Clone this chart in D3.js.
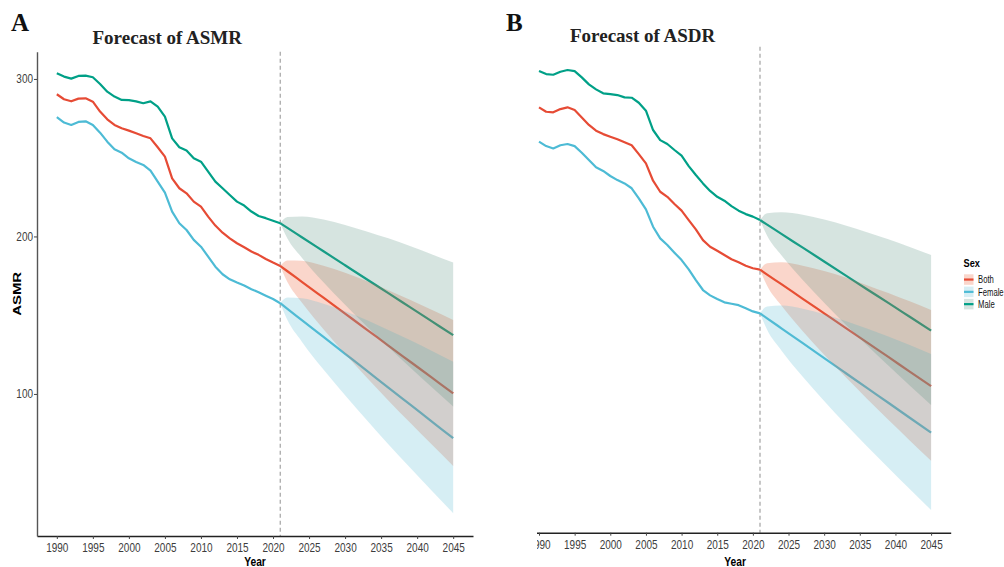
<!DOCTYPE html>
<html>
<head>
<meta charset="utf-8">
<script src="https://cdn.jsdelivr.net/npm/d3@7"></script>
<style>
  body { margin: 0; background: #fff; }
  svg { display: block; }
</style>
</head>
<body>
<svg id="chart" width="1004" height="567"></svg>
<script>
// ---- data ----
const sexes = ["Both", "Female", "Male"];
const sexColors = ["#E64B35", "#4DBBD5", "#00A087"];
const bandColors = ["#EC5A30", "#5DBAD2", "#5A9585"];
const histYears = d3.range(1990, 2022);
const fcYears = [2021, 2022, 2024, 2027, 2030, 2033, 2036, 2039, 2042, 2045];
const xTicks = [1990, 1995, 2000, 2005, 2010, 2015, 2020, 2025, 2030, 2035, 2040, 2045];
const asmrTicks = [100, 200, 300];

// ASMR (panel A)
const asmrBothHist = [290.3,287.1,285.8,287.5,287.7,285.6,279.3,274.4,270.8,268.7,267.2,265.5,263.8,262.3,256.6,250.7,236.9,230.6,227.4,222.1,218.9,212.6,206.9,202.4,198.8,195.7,193.1,190.4,188.3,185.7,183.4,181.3];
const asmrFemaleHist = [275.7,272.3,270.8,272.7,273.1,270.8,265.9,260.2,255.3,253.2,249.6,247.3,245.4,241.8,234.8,227.8,215.8,208.4,204.1,197.8,193.5,187.2,180.8,176.0,172.8,170.7,168.8,166.5,164.6,162.4,160.3,157.6];
const asmrMaleHist = [303.6,301.5,300.2,301.9,302.1,301.1,296.8,291.9,288.8,286.7,286.5,285.8,284.6,285.8,282.4,276.1,262.3,256.6,254.5,249.6,247.5,241.1,234.8,230.6,226.3,222.1,219.6,215.8,213.0,211.6,210.0,208.4];

const asmrBothFc = [181.3,177.9,171.2,161.1,151.0,140.9,130.7,120.6,110.5,100.4];
const asmrBothUp = [181.3,184.8,184.6,181.4,176.9,171.7,165.8,159.8,153.5,147.0];
const asmrBothLo = [181.3,171.0,158.0,141.0,125.4,110.5,95.9,81.8,68.0,54.3];
const asmrFemaleFc = [157.6,154.0,146.9,136.2,125.5,114.8,104.0,93.3,82.6,71.9];
const asmrFemaleUp = [157.6,161.2,160.8,157.3,152.5,146.9,140.6,134.2,127.5,120.5];
const asmrFemaleLo = [157.6,146.9,133.2,115.5,99.1,83.4,68.1,53.3,38.7,24.3];
const asmrMaleFc = [208.4,205.4,199.5,190.6,181.7,172.8,164.0,155.1,146.2,137.3];
const asmrMaleUp = [208.4,212.3,212.7,210.7,207.3,203.2,198.8,193.9,188.7,183.4];
const asmrMaleLo = [208.4,198.7,186.5,170.9,156.6,142.9,129.8,117.0,104.4,92.0];

// ASDR (panel B)
const asdrBothHist = [280.1,277.3,276.9,279.0,280.1,278.4,273.7,268.9,265.3,263.1,261.4,259.8,257.9,256.0,250.4,244.5,233.5,226.5,223.3,218.7,214.5,208.5,202.6,195.8,191.6,189.0,186.3,183.6,181.7,179.5,177.9,177.0];
const asdrFemaleHist = [258.3,255.5,254.0,256.0,256.8,255.5,251.3,246.6,242.0,239.7,236.5,233.9,231.8,228.7,222.3,215.3,204.3,196.9,192.7,187.8,183.1,177.2,170.4,164.1,160.7,158.4,156.3,155.4,154.5,152.5,150.5,149.3];
const asdrMaleHist = [303.1,301.2,300.8,302.7,303.8,303.1,299.1,294.7,291.5,289.0,288.5,287.9,286.4,286.2,283.0,278.0,265.7,259.3,256.8,253.0,249.4,242.8,237.1,231.8,227.0,223.3,220.8,217.4,214.5,212.3,210.7,208.5];

const asdrBothFc = [177.0,173.9,167.8,158.5,149.3,140.1,130.8,121.6,112.3,103.1];
const asdrBothUp = [177.0,181.1,181.7,179.5,176.1,172.0,167.2,162.2,156.9,151.4];
const asdrBothLo = [177.0,166.8,154.2,137.9,123.0,108.8,95.1,81.7,68.6,55.7];
const asdrFemaleFc = [149.3,146.1,139.8,130.4,120.9,111.4,101.9,92.5,83.0,73.5];
const asdrFemaleUp = [149.3,153.6,154.2,152.2,148.7,144.4,139.6,134.6,129.2,123.5];
const asdrFemaleLo = [149.3,138.8,125.7,109.0,93.6,79.0,64.9,51.2,37.7,24.4];
const asdrMaleFc = [208.5,205.6,199.7,191.0,182.2,173.4,164.6,155.9,147.1,138.3];
const asdrMaleUp = [208.5,212.8,213.5,211.9,208.8,205.1,200.8,196.3,191.4,186.3];
const asdrMaleLo = [208.5,198.6,186.2,170.5,156.0,142.2,129.0,116.2,103.5,91.1];

const svg = d3.select("#chart");
svg.append("rect").attr("width", 1004).attr("height", 567).attr("fill", "#fff");
const defs = svg.append("defs");

const axisFont = "'Liberation Sans Narrow', 'Arial Narrow', 'Liberation Sans', sans-serif";
const serifFont = "'Liberation Serif', 'Times New Roman', serif";

function drawPanel(o) {
  const g = svg.append("g");
  if (o.clipLeft) {
    defs.append("clipPath").attr("id", o.id + "-clip")
      .append("rect").attr("x", o.clipLeft).attr("y", 0).attr("width", 1004 - o.clipLeft).attr("height", 567);
    g.attr("clip-path", `url(#${o.id}-clip)`);
  }

  const x = d3.scaleLinear().domain([1987.25, 2047.75]).range(o.xRange);
  const y = d3.scaleLinear().domain(o.yDomain).range(o.yRange);

  // 2021 divider
  g.append("line")
    .attr("x1", x(2021)).attr("x2", x(2021))
    .attr("y1", o.yRange[1]).attr("y2", o.yRange[0])
    .attr("stroke", "#9a9a9a").attr("stroke-width", 1.1)
    .attr("stroke-dasharray", "4,3");

  const line = d3.line().x(d => x(d[0])).y(d => y(d[1]));
  const fcLine = d3.line().x(d => x(d[0])).y(d => y(d[1])).curve(d3.curveMonotoneX);
  const band = d3.area().x(d => x(d[0])).y0(d => y(d[1])).y1(d => y(d[2])).curve(d3.curveMonotoneX);

  // lines first, ribbons drawn on top (as in the source)
  sexes.forEach((s, k) => {
    g.append("path")
      .datum(o.hist[k].map((v, i) => [histYears[i], v]))
      .attr("fill", "none").attr("stroke", sexColors[k]).attr("stroke-width", 2.2)
      .attr("stroke-linejoin", "round")
      .attr("d", line);
    g.append("path")
      .datum(o.fc[k].map((v, i) => [fcYears[i], v]))
      .attr("fill", "none").attr("stroke", sexColors[k]).attr("stroke-width", 2.2)
      .attr("d", fcLine);
  });
  sexes.forEach((s, k) => {
    g.append("path")
      .datum(o.lo[k].map((v, i) => [fcYears[i], v, o.up[k][i]]))
      .attr("fill", bandColors[k]).attr("fill-opacity", 0.25)
      .attr("d", band);
  });

  // x axis
  const xa = g.append("g")
    .attr("transform", `translate(0,${o.yRange[0]})`)
    .call(d3.axisBottom(x).tickValues(xTicks).tickFormat(d3.format("d")).tickSize(3).tickSizeOuter(0).tickPadding(4));
  xa.select(".domain").attr("stroke", "#222").attr("stroke-width", 1.4);
  xa.selectAll(".tick line").attr("stroke", "#444");
  xa.selectAll("text").attr("font-family", axisFont).attr("font-size", 12.5)
    .attr("fill", "#3d3d3d").attr("transform", "scale(0.8,1)");

  if (o.yTicks) {
    const ya = g.append("g")
      .attr("transform", `translate(${o.xRange[0]},0)`)
      .call(d3.axisLeft(y).tickValues(o.yTicks).tickSize(3).tickSizeOuter(0).tickPadding(2));
    ya.select(".domain").attr("stroke", "#555").attr("stroke-width", 1.4);
    ya.selectAll(".tick line").attr("stroke", "#444");
    ya.selectAll("text").attr("font-family", axisFont).attr("font-size", 12.5)
      .attr("fill", "#3d3d3d").attr("transform", "scale(0.8,1)");

    svg.append("text")
      .attr("transform", `translate(20.5,${(o.yRange[0] + o.yRange[1]) / 2 + 0}) rotate(-90)`)
      .attr("text-anchor", "middle")
      .attr("font-family", "'Liberation Sans', Arial, sans-serif").attr("font-weight", "bold")
      .attr("font-size", 10.5).attr("textLength", 44).attr("lengthAdjust", "spacingAndGlyphs")
      .text(o.yLabel);
  }

  svg.append("text")
    .attr("transform", `translate(${(o.xRange[0] + o.xRange[1]) / 2},565.5) scale(0.82,1)`)
    .attr("text-anchor", "middle")
    .attr("font-family", axisFont).attr("font-weight", "bold").attr("font-size", 12.5)
    .text("Year");

  svg.append("text")
    .attr("x", o.tagX).attr("y", 31)
    .attr("font-family", serifFont).attr("font-weight", "bold").attr("font-size", 25)
    .attr("fill", "#111").text(o.tag);
  svg.append("text")
    .attr("x", o.titleX).attr("y", o.titleY)
    .attr("font-family", serifFont).attr("font-weight", "bold").attr("font-size", 19)
    .attr("fill", "#222").text(o.title);
}

drawPanel({
  id: "A", tag: "A", tagX: 11, title: "Forecast of ASMR", titleX: 92.5, titleY: 44,
  xRange: [37, 473], yRange: [536, 51.7], yDomain: [9.8, 317.3],
  yTicks: asmrTicks, yLabel: "ASMR",
  hist: [asmrBothHist, asmrFemaleHist, asmrMaleHist],
  fc: [asmrBothFc, asmrFemaleFc, asmrMaleFc],
  up: [asmrBothUp, asmrFemaleUp, asmrMaleUp],
  lo: [asmrBothLo, asmrFemaleLo, asmrMaleLo]
});

drawPanel({
  id: "B", tag: "B", tagX: 506, title: "Forecast of ASDR", titleX: 570, titleY: 41.7,
  xRange: [519.4, 950.7], yRange: [532.7, 46.7], yDomain: [10, 318.6],
  clipLeft: 537,
  hist: [asdrBothHist, asdrFemaleHist, asdrMaleHist],
  fc: [asdrBothFc, asdrFemaleFc, asdrMaleFc],
  up: [asdrBothUp, asdrFemaleUp, asdrMaleUp],
  lo: [asdrBothLo, asdrFemaleLo, asdrMaleLo]
});

// legend
const legend = svg.append("g").attr("transform", "translate(964,0)");
legend.append("text").attr("transform", "translate(-0.5,267.3) scale(0.8,1)")
  .attr("font-family", axisFont).attr("font-weight", "bold").attr("font-size", 11.5)
  .text("Sex");
sexes.forEach((s, k) => {
  const top = 274.3 + k * 12.3;
  legend.append("rect").attr("x", 0).attr("y", top).attr("width", 9.5).attr("height", 10.5)
    .attr("fill", bandColors[k]).attr("fill-opacity", 0.25);
  legend.append("line").attr("x1", 0).attr("x2", 9.5).attr("y1", top + 5.25).attr("y2", top + 5.25)
    .attr("stroke", sexColors[k]).attr("stroke-width", 2.2);
  legend.append("text").attr("transform", `translate(14,${top + 9}) scale(0.7,1)`)
    .attr("font-family", axisFont).attr("font-size", 11).attr("fill", "#111")
    .text(s);
});
</script>
</body>
</html>
